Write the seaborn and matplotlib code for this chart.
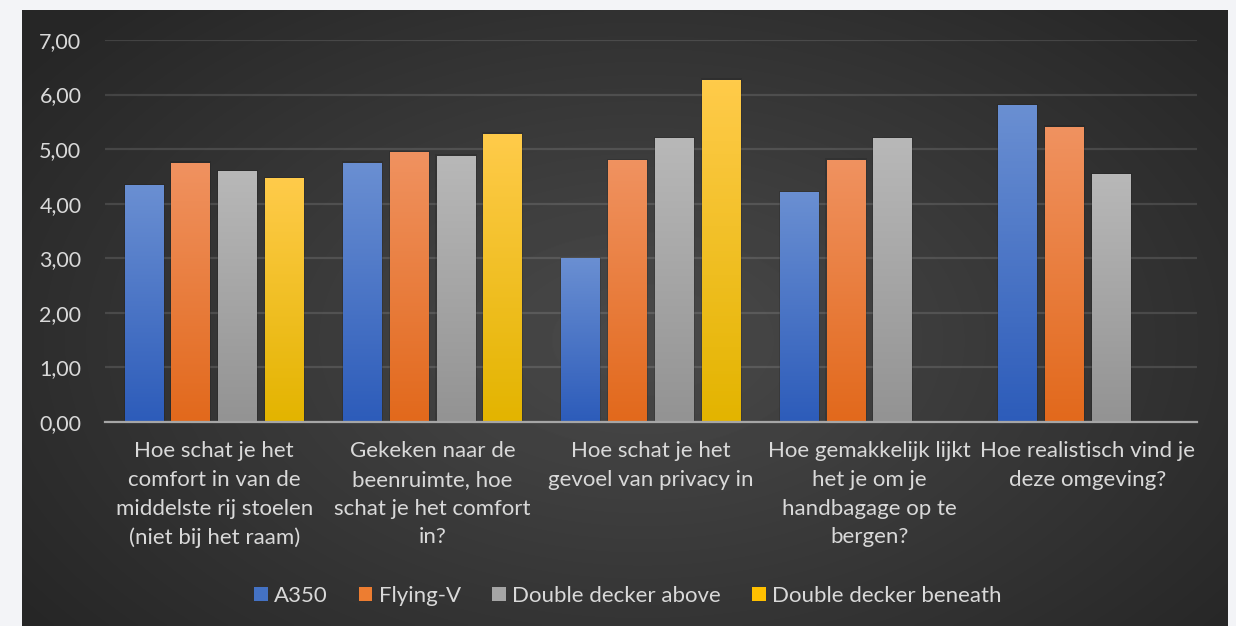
import numpy as np
import pandas as pd
import matplotlib
matplotlib.use("Agg")
import matplotlib.pyplot as plt
from matplotlib.colors import LinearSegmentedColormap
from matplotlib.patches import Patch
import seaborn as sns

questions = [
    "Hoe schat je het\ncomfort in van de\nmiddelste rij stoelen\n(niet bij het raam)",
    "Gekeken naar de\nbeenruimte, hoe\nschat je het comfort\nin?",
    "Hoe schat je het\ngevoel van privacy in",
    "Hoe gemakkelijk lijkt\nhet je om je\nhandbagage op te\nbergen?",
    "Hoe realistisch vind je\ndeze omgeving?",
]
aircraft = ["A350", "Flying-V", "Double decker above", "Double decker beneath"]
a350 = [4.34, 4.75, 3.00, 4.21, 5.81]
flying_v = [4.75, 4.95, 4.80, 4.81, 5.41]
dd_above = [4.60, 4.88, 5.20, 5.20, 4.54]
dd_beneath = [4.47, 5.28, 6.27, np.nan, np.nan]
yticks = [0, 1, 2, 3, 4, 5, 6, 7]

# gradient colours per series (top, bottom)
grad = {
    "A350": ("#6a8fd2", "#2d5cba"),
    "Flying-V": ("#f09260", "#e2691c"),
    "Double decker above": ("#b8b8b8", "#939393"),
    "Double decker beneath": ("#ffcb4a", "#e3b400"),
}
solid = {"A350": "#4472c4", "Flying-V": "#ed7d31",
         "Double decker above": "#a5a5a5", "Double decker beneath": "#ffc000"}

rows = []
for name, vals in zip(aircraft, [a350, flying_v, dd_above, dd_beneath]):
    for q, v in zip(questions, vals):
        rows.append({"question": q, "aircraft": name, "score": v})
df = pd.DataFrame(rows)

sns.set_style("dark")
plt.rcParams["font.family"] = ["Lato", "DejaVu Sans"]
txt = "#d9d9d9"

fig = plt.figure(figsize=(12.36, 6.26), dpi=100)
fig.patch.set_facecolor("#f3f4f7")

# dark radial background panel
bg = fig.add_axes([22 / 1236, 0, 1206 / 1236, 616 / 626], zorder=0)
W, H = 1206, 616
xx, yy = np.meshgrid(np.arange(W), np.arange(H))
r = np.sqrt(((xx - 620) / 760) ** 2 + ((yy - 330) / 470) ** 2)
r = np.clip(r, 0, 1)
img = 0.29 - 0.14 * r
bg.imshow(img, cmap="gray", vmin=0, vmax=1, aspect="auto", interpolation="bilinear")
bg.set_axis_off()

ax = fig.add_axes([105 / 1236, 1 - 422 / 626, 1092 / 1236, 382 / 626], zorder=1)
ax.set_facecolor("none")

sns.barplot(data=df, x="question", y="score", hue="aircraft", hue_order=aircraft,
            palette=solid, width=0.857, gap=0.17, errorbar=None, legend=False,
            linewidth=0, ax=ax)

ax.set_ylim(0, 7)
ax.set_xlim(-0.5, len(questions) - 0.5)

# vertical gradient fill on every bar
for name, cont in zip(aircraft, ax.containers):
    cmap = LinearSegmentedColormap.from_list(name, [grad[name][1], grad[name][0]])
    for bar in cont:
        h = bar.get_height()
        if not np.isfinite(h) or h <= 0:
            continue
        x0 = bar.get_x()
        w = bar.get_width()
        bar.set_linewidth(0)
        shadow = plt.Rectangle((x0 - 0.005, 0), w + 0.01, h + 0.025, color="black",
                               alpha=0.12, lw=0, zorder=1.5)
        ax.add_patch(shadow)
        gimg = ax.imshow(np.linspace(0, 1, 100).reshape(-1, 1), cmap=cmap, origin="lower",
                         extent=[x0, x0 + w, 0, h], aspect="auto", zorder=2.5)
        gimg.set_clip_path(bar)
        bar.set_zorder(2)
ax.set_ylim(0, 7)
ax.set_xlim(-0.5, len(questions) - 0.5)

ax.set_yticks(yticks)
ax.set_yticklabels([f"{v:.2f}".replace(".", ",") for v in yticks])
ax.yaxis.grid(True, color="white", alpha=0.12, lw=1.6)
ax.set_axisbelow(True)
ax.tick_params(axis="y", length=0, pad=17, labelsize=15.5, labelcolor=txt)
ax.tick_params(axis="x", length=0, pad=14, labelsize=16, labelcolor=txt)
for lab in ax.get_xticklabels():
    lab.set_linespacing(1.54)
    lab.set_ha("center")
    lab.set_multialignment("center")
ax.set_xlabel("")
ax.set_ylabel("")
for s in ["top", "right", "left"]:
    ax.spines[s].set_visible(False)
ax.spines["bottom"].set_color("#a6a6a6")
ax.spines["bottom"].set_linewidth(1.6)
ax.spines["bottom"].set_zorder(3)

handles = [Patch(facecolor=solid[n], edgecolor="none") for n in aircraft]
fig.legend(handles, aircraft, loc="center", bbox_to_anchor=(628 / 1236, 1 - 596 / 626),
           ncol=4, frameon=False, fontsize=16, labelcolor=txt, handlelength=0.6,
           handleheight=0.6, handletextpad=0.3, columnspacing=1.4)

fig.savefig("out.png", dpi=100, facecolor=fig.get_facecolor())
